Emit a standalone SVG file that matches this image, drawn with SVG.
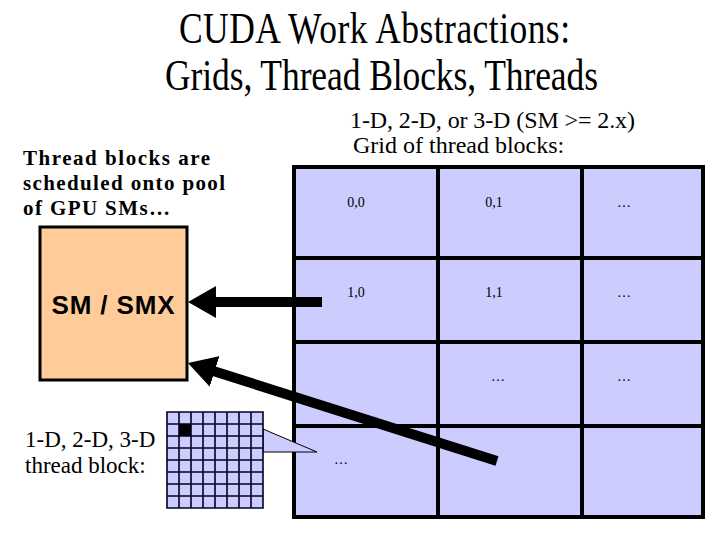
<svg xmlns="http://www.w3.org/2000/svg" width="720" height="540" viewBox="0 0 720 540">
<style>
.serif{font-family:"Liberation Serif","Times New Roman",serif;fill:#000}
.sans{font-family:"Liberation Sans",Arial,sans-serif;fill:#000}
.cell{font-size:14px;text-anchor:middle}
.gl{stroke:#000;stroke-width:4;fill:none}
.tl{stroke:#000022;stroke-width:1.6;fill:none}
.arrow{stroke:#000;stroke-width:10;fill:none;marker-end:url(#head)}
</style>
<defs>
<marker id="head" viewBox="0 0 28 32" refX="8" refY="16" markerWidth="28" markerHeight="32" markerUnits="userSpaceOnUse" orient="auto">
<path d="M0,0 L28,16 L0,32 z" fill="#000"/>
</marker>
</defs>
<rect width="720" height="540" fill="#fff"/>
<g id="title">
<g transform="translate(179,43) scale(1,1.25)"><text class="serif" x="0" y="0" font-size="35.5" textLength="391">CUDA Work Abstractions:</text></g>
<g transform="translate(165,90) scale(1,1.25)"><text class="serif" x="0" y="0" font-size="35.5" textLength="433">Grids, Thread Blocks, Threads</text></g>
</g>
<g id="grid-label">
<text class="serif" x="350" y="128" font-size="24" textLength="285">1-D, 2-D, or 3-D (SM &gt;= 2.x)</text>
<text class="serif" x="353" y="153" font-size="24">Grid of thread blocks:</text>
</g>
<g id="sched-label">
<text class="serif" x="23" y="165" font-size="21" font-weight="bold" textLength="187">Thread blocks are</text>
<text class="serif" x="23" y="190" font-size="21" font-weight="bold" textLength="202">scheduled onto pool</text>
<text class="serif" x="23" y="215" font-size="21" font-weight="bold" textLength="147">of GPU SMs…</text>
</g>
<g id="sm">
<rect x="40" y="227" width="147" height="153" fill="#FFCC99" stroke="#000" stroke-width="3"/>
<text class="sans" x="113" y="314" font-size="26" font-weight="bold" text-anchor="middle" textLength="123">SM / SMX</text>
</g>
<g id="grid">
<rect x="294" y="167" width="409" height="350" fill="#CCCCFF"/>
<path class="gl" d="M294,167H703V517H294Z M438,167V517 M582,167V517 M294,258H703 M294,342H703 M294,426H703"/>
<text class="serif cell" x="356" y="207">0,0</text>
<text class="serif cell" x="494" y="207">0,1</text>
<text class="serif cell" x="624" y="207">…</text>
<text class="serif cell" x="356" y="297">1,0</text>
<text class="serif cell" x="494" y="297">1,1</text>
<text class="serif cell" x="624" y="297">…</text>
<text class="serif cell" x="498" y="381">…</text>
<text class="serif cell" x="624" y="381">…</text>
<text class="serif cell" x="341" y="464">…</text>
</g>
<g id="thread-block">
<text class="serif" x="25" y="447" font-size="23">1-D, 2-D, 3-D</text>
<text class="serif" x="25" y="473" font-size="23">thread block:</text>
<polygon points="263,429 317,452 263,452" fill="#CCCCFF" stroke="#000" stroke-width="1"/>
<rect x="167" y="412" width="96" height="96" fill="#CCCCFF"/>
<rect x="179" y="424" width="12" height="12" fill="#000"/>
<path class="tl" d="M167,412H263V508H167Z M179,412V508 M191,412V508 M203,412V508 M215,412V508 M227,412V508 M239,412V508 M251,412V508 M167,424H263 M167,436H263 M167,448H263 M167,460H263 M167,472H263 M167,484H263 M167,496H263"/>
</g>
<g id="connectors">
<line class="arrow" x1="322" y1="302" x2="208" y2="302"/>
<line class="arrow" x1="497" y1="461" x2="207" y2="369"/>
</g>
</svg>
